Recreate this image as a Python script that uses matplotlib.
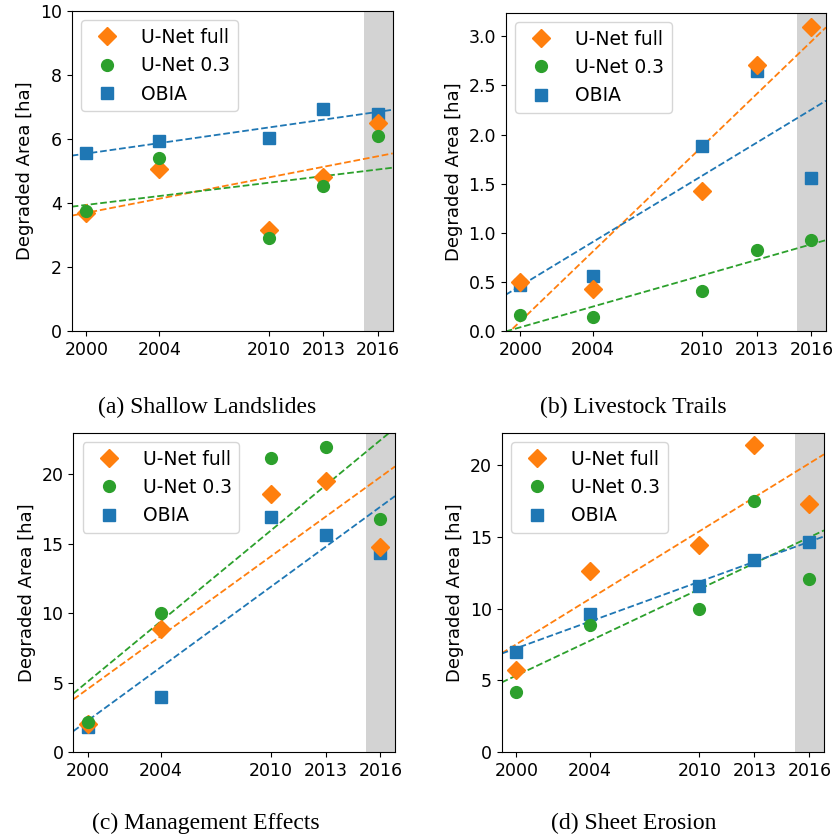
import numpy as np
import matplotlib
matplotlib.use("Agg")
from matplotlib import pyplot as plt

years = np.array([2000, 2004, 2010, 2013, 2016])
year_ticks = [2000, 2004, 2010, 2013, 2016]

titles = ["(a) Shallow Landslides", "(b) Livestock Trails",
          "(c) Management Effects", "(d) Sheet Erosion"]

# U-Net full, U-Net 0.3, OBIA for each panel
unet_full = [
    [3.68, 5.05, 3.16, 4.82, 6.51],
    [0.50, 0.43, 1.42, 2.71, 3.09],
    [2.04, 8.84, 18.61, 19.52, 14.78],
    [5.73, 12.62, 14.45, 21.39, 17.26],
]
unet_03 = [
    [3.76, 5.40, 2.90, 4.54, 6.08],
    [0.16, 0.14, 0.41, 0.82, 0.93],
    [2.20, 9.99, 21.20, 21.96, 16.81],
    [4.22, 8.86, 9.98, 17.49, 12.04],
]
obia = [
    [5.56, 5.93, 6.04, 6.93, 6.77],
    [0.47, 0.56, 1.88, 2.65, 1.56],
    [1.84, 4.00, 16.93, 15.66, 14.35],
    [6.96, 9.61, 11.55, 13.39, 14.64],
]

ylims = [(0, 10), (0, 3.24), (0, 23.0), (0, 22.25)]
yticks = [np.arange(0, 10.1, 2), np.arange(0, 3.01, 0.5),
          np.arange(0, 20.1, 5), np.arange(0, 20.1, 5)]
ytickfmt = ["{:.0f}", "{:.1f}", "{:.0f}", "{:.0f}"]

# axes boxes in pixels: left, right, top, bottom
boxes = [(71.7, 392.7, 11.0, 331.0), (505.7, 826.0, 12.7, 331.0),
         (73.3, 395.0, 432.7, 752.3), (501.7, 824.0, 432.7, 752.3)]
cap_pos = [(207, 407), (633, 407), (206, 823), (634, 823)]

W, H = 840, 838
fig = plt.figure(figsize=(W / 100, H / 100), dpi=100)

xmin, xmax = 1999.2, 2016.8
xx = np.array([xmin, xmax])

for i in range(4):
    l, r, t, b = boxes[i]
    ax = fig.add_axes([l / W, 1 - b / H, (r - l) / W, (b - t) / H])
    ax.axvspan(2015.2, xmax, color='lightgrey', lw=0, zorder=0)
    h_ob, = ax.plot(years, obia[i], 's', color='C0', ms=9, label='OBIA', zorder=3)
    h_uf, = ax.plot(years, unet_full[i], 'D', color='C1', ms=9, label='U-Net full', zorder=3)
    h_u3, = ax.plot(years, unet_03[i], 'o', color='C2', ms=8.5, label='U-Net 0.3', zorder=3)
    for vals, c in [(unet_full[i], 'C1'), (unet_03[i], 'C2'), (obia[i], 'C0')]:
        k, d = np.polyfit(years - 2000, vals, 1)
        ax.plot(xx, k * (xx - 2000) + d, '--', color=c, lw=1.3, zorder=2)
    ax.set_xlim(xmin, xmax)
    ax.set_ylim(*ylims[i])
    ax.set_xticks(year_ticks)
    ax.set_yticks(yticks[i])
    ax.set_yticklabels([ytickfmt[i].format(v) for v in yticks[i]])
    ax.tick_params(labelsize=12.5)
    ax.set_ylabel("Degraded Area [ha]", fontsize=13)
    ax.legend(handles=[h_uf, h_u3, h_ob], loc='upper left', fontsize=13.5)
    cx, cy = cap_pos[i]
    fig.text(cx / W, 1 - cy / H, titles[i],
             family='Liberation Serif', fontsize=17, ha='center', va='center')

fig.savefig("out.png", dpi=100)
